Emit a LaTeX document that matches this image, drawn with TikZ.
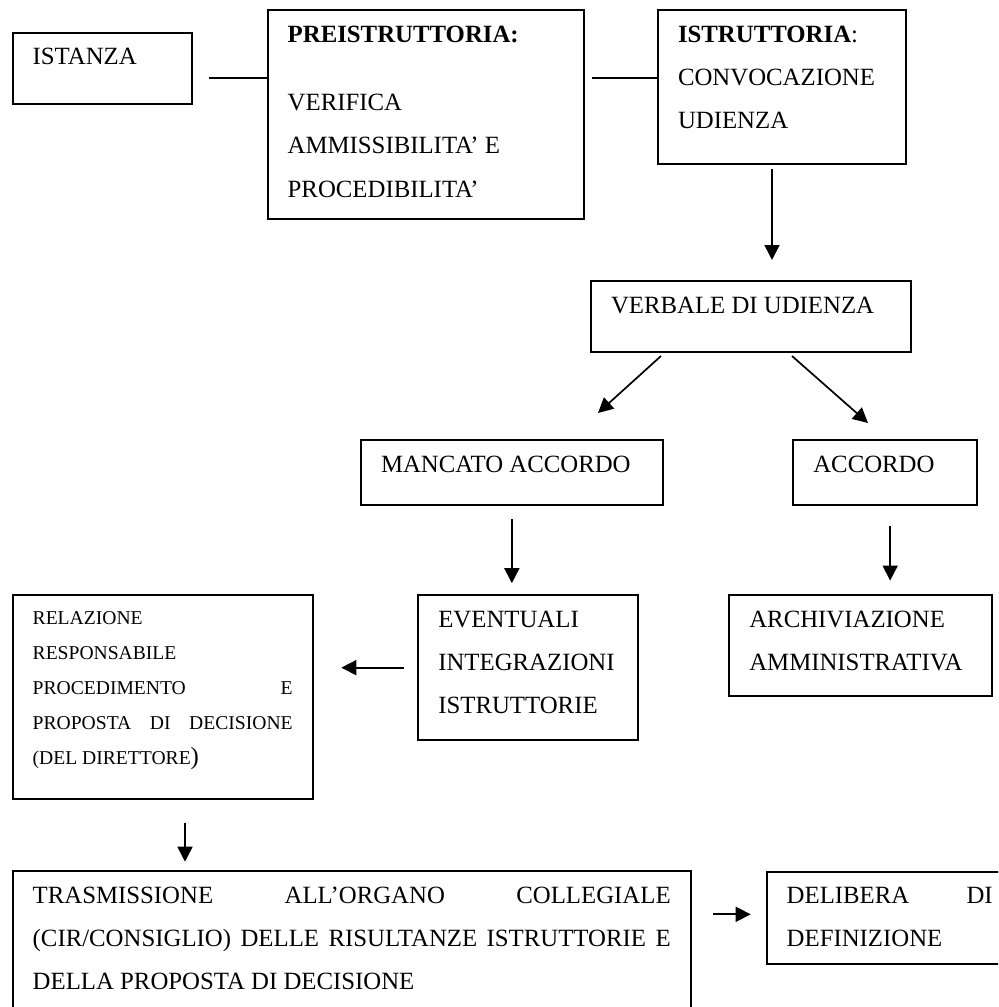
\documentclass[tikz,border=0pt]{standalone}
\usepackage{fontspec}
\setmainfont{Liberation Serif}
\usetikzlibrary{arrows.meta}

\newcommand{\boxfont}{\fontsize{12.4}{21.6}\selectfont}
\newcommand{\smallboxfont}{\fontsize{9.8}{17.5}\selectfont}
% text block of a box: width, height, lines
\newcommand{\boxtext}[3]{\parbox[t][#2][t]{#1}{\rule{0pt}{16pt}#3}}

\tikzset{
    stage/.style={draw, line width=1pt, anchor=north west, inner xsep=10pt, inner ysep=0pt, font=\boxfont},
    link/.style={line width=0.85pt},
    flow/.style={link, -{Triangle[length=7.5pt,width=7.5pt]}}
}

\begin{document}
\begin{tikzpicture}[x=0.5pt, y=-0.5pt]
    \useasboundingbox (0,0) rectangle (998,1007);
    \clip (0,0) rectangle (998,1007);

    % Top row
    \node[stage] (istanza) at (11.7,31.7) {\boxtext{69.5pt}{35.8pt}{ISTANZA}};
    \node[stage] (preistr) at (266.7,9.3) {\boxtext{137.9pt}{104.5pt}{%
        \textbf{PREISTRUTTORIA:}\\[12.6pt]
        VERIFICA\\
        AMMISSIBILITA' E\\
        PROCEDIBILITA'}};
    \node[stage] (istr) at (657,9) {\boxtext{104pt}{77pt}{%
        \textbf{ISTRUTTORIA}:\\
        CONVOCAZIONE\\
        UDIENZA}};

    % Hearing and its outcomes
    \node[stage] (verbale) at (590,280) {\boxtext{140pt}{35.35pt}{VERBALE DI UDIENZA}};
    \node[stage] (mancato) at (360,439) {\boxtext{130.85pt}{32.5pt}{MANCATO ACCORDO}};
    \node[stage] (accordo) at (792.3,439) {\boxtext{71.85pt}{32.5pt}{ACCORDO}};
    \node[stage] (eventuali) at (417.3,594) {\boxtext{90pt}{72.65pt}{%
        EVENTUALI\\
        INTEGRAZIONI\\
        ISTRUTTORIE}};
    \node[stage] (archiv) at (728.3,594) {\boxtext{111.2pt}{50.5pt}{%
        ARCHIVIAZIONE\\
        AMMINISTRATIVA}};
    \node[stage, font=\smallboxfont] (relazione) at (11.7,594) {%
        \parbox[t][101.8pt][t]{130pt}{\rule{0pt}{14.6pt}RELAZIONE\\
        RESPONSABILE\\
        \makebox[\linewidth][s]{PROCEDIMENTO E}\\
        \makebox[\linewidth][s]{PROPOSTA DI DECISIONE}\\
        (DEL DIRETTORE{\boxfont)}}};

    % Bottom row
    \node[stage] (trasm) at (11.7,870) {\boxtext{319pt}{75pt}{%
        \makebox[\linewidth][s]{TRASMISSIONE ALL'ORGANO COLLEGIALE}\\
        \makebox[\linewidth][s]{(CIR/CONSIGLIO) DELLE RISULTANZE ISTRUTTORIE E}\\
        DELLA PROPOSTA DI DECISIONE}};
    \node[stage] (delibera) at (765.7,870.7) {\boxtext{103pt}{46pt}{%
        \makebox[\linewidth][s]{DELIBERA DI}\\
        DEFINIZIONE}};

    % Connectors
    \coordinate (row) at (0,77.7);
    \draw[link, shorten <=8pt] (istanza.east |- row) -- (preistr.west |- row);
    \draw[link, shorten <=3.75pt] (preistr.east |- row) -- (istr.west |- row);

    \coordinate (istrout) at ([xshift=-5pt]istr.south);
    \draw[flow, shorten <=2pt, shorten >=10pt] (istrout) -- (istrout |- verbale.north);

    \draw[flow] ([shift={(35.5pt,-1.65pt)}]verbale.south west) -- ([shift={(-32.85pt,13pt)}]mancato.north east);
    \draw[flow] ([shift={(101pt,-1.65pt)}]verbale.south west) -- ([shift={(37.85pt,8pt)}]accordo.north west);

    \draw[flow, shorten <=6.6pt, shorten >=5.4pt] (mancato.south) -- (mancato.south |- eventuali.north);
    \coordinate (accout) at ([xshift=2.5pt]accordo.south);
    \draw[flow, shorten <=10pt, shorten >=6.7pt] (accout) -- (accout |- archiv.north);

    \draw[flow, shorten <=6.6pt, shorten >=13.8pt] (eventuali.west) -- (eventuali.west -| relazione.east);

    \coordinate (relout) at ([xshift=11.15pt]relazione.south);
    \draw[flow, shorten <=11.5pt, shorten >=4.15pt] (relout) -- (relout |- trasm.north);

    \coordinate (delin) at ([yshift=1.7pt]delibera.west);
    \draw[flow, shorten <=10.8pt, shorten >=7.5pt] (trasm.east |- delin) -- (delin);
\end{tikzpicture}
\end{document}
